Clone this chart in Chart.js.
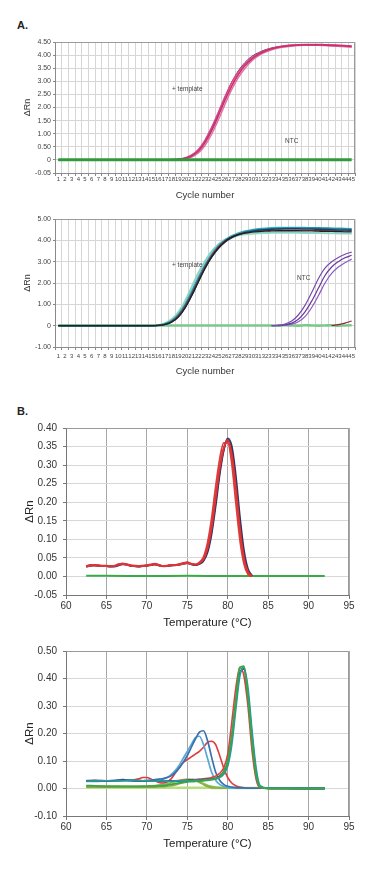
<!DOCTYPE html>
<html><head><meta charset="utf-8">
<script src="https://cdn.jsdelivr.net/npm/chart.js@4.4.0/dist/chart.umd.min.js"></script>
<style>
html,body{margin:0;padding:0;background:#fff;width:380px;height:869px;overflow:hidden;position:relative}
canvas{position:absolute;left:0}
.lbl{position:absolute;font:bold 11px 'Liberation Sans',Arial,sans-serif;color:#222;line-height:1}
.ann{position:absolute;font:6.5px 'Liberation Sans',Arial,sans-serif;color:#444;white-space:nowrap;line-height:1}
</style></head><body>
<div class="lbl" style="left:17px;top:20px">A.</div>
<div class="lbl" style="left:17px;top:406px">B.</div>
<canvas id="c1" width="380" height="180" style="top:30px"></canvas>
<canvas id="c2" width="380" height="175" style="top:210px"></canvas>
<canvas id="c3" width="380" height="215" style="top:415px"></canvas>
<canvas id="c4" width="380" height="231" style="top:638px"></canvas>
<div class="ann" style="left:172px;top:86px">+ template</div>
<div class="ann" style="left:285px;top:138px">NTC</div>
<div class="ann" style="left:172px;top:262px">+ template</div>
<div class="ann" style="left:297px;top:275px">NTC</div>
<script>
// ---------- DATA ----------
const cycleLabels = ['1','2','3','4','5','6','7','8','9','10','11','12','13','14','15','16','17','18','19','20','21','22','23','24','25','26','27','28','29','30','31','32','33','34','35','36','37','38','39','40','41','42','43','44','45'];

// Panel A (top): amplification, + template (pink) and NTC (green)
const a1Template1 = [0,0,0,0,0,0,0,0,0,0,0,0,0,0,0,0,0,0.01,0.02,0.06,0.15,0.33,0.66,1.12,1.68,2.28,2.82,3.26,3.6,3.85,4.02,4.15,4.24,4.3,4.34,4.37,4.38,4.39,4.39,4.39,4.38,4.37,4.36,4.35,4.33];
const a1Template2 = [0,0,0,0,0,0,0,0,0,0,0,0,0,0,0,0,0,0.01,0.03,0.08,0.19,0.4,0.76,1.25,1.82,2.42,2.95,3.36,3.67,3.9,4.06,4.18,4.26,4.32,4.36,4.38,4.4,4.41,4.41,4.41,4.4,4.39,4.38,4.37,4.35];
const a1Template3 = [0,0,0,0,0,0,0,0,0,0,0,0,0,0,0,0,0,0,0.01,0.04,0.11,0.26,0.55,0.98,1.52,2.12,2.68,3.14,3.5,3.78,3.97,4.1,4.2,4.27,4.31,4.34,4.36,4.37,4.37,4.37,4.36,4.35,4.34,4.32,4.3];
const a1Template4 = [0,0,0,0,0,0,0,0,0,0,0,0,0,0,0,0,0,0.01,0.02,0.07,0.17,0.37,0.72,1.2,1.78,2.4,2.96,3.4,3.72,3.95,4.09,4.2,4.27,4.32,4.35,4.37,4.38,4.39,4.39,4.39,4.38,4.37,4.36,4.34,4.33];
const a1Ntc = [0.01,0.01,0.01,0.01,0.01,0.01,0.01,0.01,0.01,0.01,0.01,0.01,0.01,0.01,0.01,0.01,0.01,0.01,0.01,0.01,0.01,0.01,0.01,0.01,0.01,0.01,0.01,0.01,0.01,0.01,0.01,0.01,0.01,0.01,0.01,0.01,0.01,0.01,0.01,0.01,0.01,0.01,0.01,0.01,0.01];
const a1YTicks = ['-0.05','0','0.50','1.00','1.50','2.00','2.50','3.00','3.50','4.00','4.50'];

// Panel A (bottom)
const a2Teal = [0,0,0,0,0,0,0,0,0,0,0,0,0,0,0,0.02,0.08,0.22,0.5,0.95,1.55,2.2,2.8,3.3,3.7,3.98,4.17,4.3,4.4,4.46,4.5,4.53,4.55,4.56,4.57,4.57,4.58,4.58,4.57,4.57,4.56,4.55,4.54,4.53,4.52];
const a2Cyan = [0,0,0,0,0,0,0,0,0,0,0,0,0,0,0,0.02,0.09,0.24,0.54,1.0,1.62,2.28,2.88,3.38,3.76,4.03,4.22,4.35,4.44,4.5,4.54,4.57,4.59,4.6,4.6,4.6,4.6,4.6,4.59,4.59,4.58,4.57,4.57,4.56,4.55];
const a2LightCyan = [0,0,0,0,0,0,0,0,0,0,0,0,0,0,0,0.03,0.11,0.28,0.6,1.1,1.75,2.42,3.0,3.48,3.82,4.05,4.18,4.26,4.31,4.34,4.36,4.37,4.38,4.38,4.38,4.38,4.37,4.37,4.36,4.36,4.35,4.34,4.34,4.33,4.33];
const a2LightGreen = [0,0,0,0,0,0,0,0,0,0,0,0,0,0,0,0.04,0.13,0.32,0.66,1.18,1.85,2.5,3.05,3.5,3.82,4.03,4.15,4.22,4.27,4.3,4.32,4.33,4.34,4.34,4.34,4.34,4.34,4.33,4.33,4.33,4.32,4.32,4.31,4.31,4.3];
const a2Navy = [0,0,0,0,0,0,0,0,0,0,0,0,0,0,0,0.01,0.06,0.18,0.42,0.85,1.42,2.07,2.7,3.22,3.62,3.92,4.12,4.26,4.36,4.42,4.47,4.5,4.52,4.53,4.54,4.54,4.54,4.53,4.53,4.52,4.51,4.5,4.49,4.48,4.47];
const a2Black = [0,0,0,0,0,0,0,0,0,0,0,0,0,0,0,0.01,0.05,0.16,0.4,0.82,1.4,2.05,2.68,3.22,3.64,3.95,4.15,4.27,4.34,4.38,4.41,4.43,4.44,4.45,4.45,4.45,4.45,4.44,4.44,4.43,4.42,4.42,4.41,4.4,4.4];
const a2Red = [0,0,0,0,0,0,0,0,0,0,0,0,0,0,0,0.02,0.07,0.2,0.47,0.92,1.5,2.15,2.78,3.3,3.7,3.98,4.16,4.28,4.36,4.41,4.44,4.46,4.47,4.48,4.48,4.48,4.48,4.47,4.47,4.46,4.46,4.45,4.45,4.44,4.44];
const a2Ntc1 = [null,null,null,null,null,null,null,null,null,null,null,null,null,null,null,null,null,null,null,null,null,null,null,null,null,null,null,null,null,null,null,null,0,0.02,0.08,0.22,0.5,0.95,1.55,2.2,2.7,3.0,3.2,3.35,3.45];
const a2Ntc2 = [null,null,null,null,null,null,null,null,null,null,null,null,null,null,null,null,null,null,null,null,null,null,null,null,null,null,null,null,null,null,null,null,0,0.01,0.04,0.12,0.3,0.65,1.15,1.75,2.35,2.75,3.0,3.18,3.3];
const a2Ntc3 = [null,null,null,null,null,null,null,null,null,null,null,null,null,null,null,null,null,null,null,null,null,null,null,null,null,null,null,null,null,null,null,null,0,0,0.02,0.07,0.18,0.42,0.85,1.4,2.0,2.45,2.75,2.95,3.12];
const a2Ntc4 = [null,null,null,null,null,null,null,null,null,null,null,null,null,null,null,null,null,null,null,null,null,null,null,null,null,null,null,null,null,null,null,null,null,null,null,null,null,null,null,null,null,0,0.05,0.12,0.22];
const a2NtcGreen = [0.01,0.01,0.01,0.01,0.01,0.01,0.01,0.01,0.01,0.01,0.01,0.01,0.01,0.01,0.01,0.01,0.01,0.01,0.01,0.01,0.01,0.01,0.01,0.01,0.01,0.01,0.01,0.01,0.01,0.01,0.01,0.01,0.01,0.0,0.02,0.01,0.0,0.02,0.01,0.0,0.01,0.02,0.0,0.01,0.02];

// Panel B (top): melt curves
const b1Temp = [62.5,63,63.5,64,64.5,65,65.5,66,66.5,67,67.5,68,68.5,69,69.5,70,70.5,71,71.5,72,72.5,73,73.5,74,74.5,75,75.5,76,76.5,77,77.5,78,78.5,79,79.5,80,80.5,81,81.5,82,82.5,83];
const b1Red1 = [0.028,0.031,0.031,0.030,0.029,0.029,0.028,0.028,0.032,0.035,0.033,0.030,0.029,0.028,0.029,0.030,0.032,0.034,0.031,0.028,0.029,0.031,0.031,0.033,0.036,0.038,0.034,0.032,0.036,0.046,0.075,0.130,0.210,0.290,0.345,0.368,0.330,0.240,0.130,0.050,0.012,0.001];
const b1Red2 = [0.026,0.029,0.030,0.029,0.028,0.028,0.027,0.029,0.033,0.034,0.031,0.029,0.027,0.027,0.028,0.029,0.031,0.033,0.030,0.027,0.028,0.030,0.031,0.032,0.034,0.036,0.033,0.032,0.038,0.052,0.090,0.155,0.240,0.315,0.360,0.360,0.305,0.200,0.100,0.035,0.006,0.000];
const b1Navy = [0.027,0.029,0.030,0.029,0.028,0.028,0.027,0.027,0.030,0.033,0.032,0.029,0.028,0.027,0.028,0.029,0.031,0.032,0.030,0.028,0.028,0.030,0.030,0.032,0.034,0.036,0.033,0.031,0.034,0.042,0.065,0.115,0.190,0.275,0.340,0.372,0.350,0.270,0.160,0.070,0.020,0.002];
const b1Dark = [0.027,0.030,0.030,0.029,0.028,0.028,0.027,0.028,0.031,0.034,0.032,0.029,0.028,0.027,0.028,0.029,0.031,0.033,0.030,0.028,0.028,0.030,0.031,0.032,0.035,0.037,0.033,0.031,0.035,0.044,0.070,0.122,0.200,0.282,0.342,0.366,0.340,0.255,0.145,0.060,0.015,0.001];
const b1GreenTemp = [62.5,65,70,75,80,83,85,90,92];
const b1Green = [0.002,0.002,0.001,0.002,0.001,0.001,0.001,0.001,0.001];

// Panel B (bottom)
const b2Temp = [62.5,63,64,65,66,67,68,69,69.5,70,70.5,71,71.5,72,72.5,73,73.5,74,74.5,75,75.5,76,76.5,77,77.5,78,78.5,79,79.5,80,80.5,81,81.5,82,82.5,83,83.5,84,85,86,88,90,92];
const b2MainGreen = [0.010,0.010,0.009,0.008,0.008,0.008,0.008,0.008,0.008,0.008,0.009,0.009,0.010,0.010,0.012,0.015,0.018,0.020,0.022,0.024,0.025,0.026,0.027,0.028,0.030,0.032,0.035,0.042,0.060,0.100,0.190,0.320,0.440,0.445,0.330,0.170,0.050,0.005,0.000,0.000,0.000,0.000,0.000];
const b2MainTeal = [0.027,0.027,0.028,0.028,0.027,0.029,0.031,0.029,0.028,0.028,0.027,0.027,0.028,0.027,0.026,0.026,0.027,0.028,0.028,0.029,0.029,0.030,0.030,0.031,0.032,0.033,0.035,0.040,0.052,0.082,0.160,0.290,0.410,0.440,0.365,0.210,0.075,0.010,0.001,0.001,0.001,0.000,0.000];
const b2MainNavy = [0.028,0.029,0.028,0.027,0.028,0.032,0.030,0.028,0.027,0.027,0.028,0.028,0.027,0.026,0.026,0.027,0.027,0.027,0.028,0.029,0.030,0.030,0.031,0.032,0.033,0.034,0.037,0.045,0.060,0.095,0.180,0.310,0.420,0.435,0.345,0.190,0.060,0.006,0.001,0.001,0.000,0.000,0.000];
const b2MainRed = [0.028,0.028,0.029,0.028,0.027,0.029,0.030,0.029,0.028,0.028,0.028,0.027,0.027,0.027,0.027,0.028,0.028,0.029,0.030,0.031,0.032,0.033,0.034,0.035,0.037,0.040,0.045,0.055,0.075,0.125,0.240,0.365,0.440,0.410,0.300,0.140,0.035,0.003,0.001,0.000,0.000,0.000,0.000];
const b2BlueDimer = [0.028,0.028,0.029,0.028,0.030,0.030,0.029,0.028,0.028,0.029,0.030,0.032,0.034,0.036,0.040,0.046,0.058,0.075,0.095,0.120,0.150,0.180,0.205,0.210,0.175,0.115,0.060,0.030,0.015,0.008,0.005,0.003,0.002,0.002,0.001,0.001,0.001,0.001,0.001,0.001,0.002,0.000,0.000];
const b2LightBlueDimer = [0.025,0.026,0.026,0.027,0.027,0.028,0.028,0.028,0.028,0.029,0.029,0.030,0.032,0.034,0.040,0.050,0.065,0.085,0.110,0.135,0.160,0.185,0.190,0.160,0.110,0.060,0.030,0.015,0.008,0.004,0.002,0.002,0.002,0.001,0.001,0.001,0.001,0.001,0.001,0.001,0.001,0.001,0.001];
const b2RedDimer = [0.027,0.028,0.028,0.027,0.028,0.030,0.030,0.035,0.040,0.040,0.035,0.028,0.022,0.020,0.024,0.035,0.055,0.075,0.095,0.105,0.115,0.125,0.135,0.150,0.168,0.172,0.160,0.120,0.075,0.040,0.020,0.010,0.005,0.003,0.002,0.002,0.001,0.001,0.001,0.000,0.000,0.000,0.000];
const b2GreenBump = [0.010,0.010,0.009,0.009,0.009,0.008,0.008,0.008,0.009,0.009,0.010,0.011,0.012,0.014,0.017,0.021,0.025,0.029,0.032,0.034,0.033,0.030,0.025,0.018,0.012,0.008,0.005,0.004,0.003,0.003,0.002,0.002,0.002,0.002,0.002,0.002,0.002,0.002,null,null,null,null,null];
const b2OliveBump = [0.005,0.005,0.005,0.005,0.005,0.005,0.005,0.005,0.005,0.005,0.005,0.005,0.006,0.006,0.008,0.010,0.013,0.017,0.021,0.025,0.028,0.027,0.022,0.014,0.007,0.003,0.002,0.001,0.001,0.001,null,null,null,null,null,null,null,null,null,null,null,null,null];
const b2LimeFlat = [0.004,0.004,0.003,0.003,0.003,0.003,0.003,0.003,0.003,0.003,0.003,0.003,0.003,0.003,0.003,0.003,0.003,0.003,0.003,0.003,0.003,0.003,0.003,0.003,0.003,0.002,0.002,0.002,0.002,0.002,0.002,0.002,0.002,0.002,0.002,0.002,0.002,0.002,null,null,null,null,null];

// ---------- RENDER ----------
const SANS = "'Liberation Sans', Arial, sans-serif";

const frame = {
  id: 'frame',
  beforeDatasetsDraw(c, args, o) {
    const a = c.chartArea, ctx = c.ctx;
    ctx.save();
    ctx.strokeStyle = o.color || '#999';
    ctx.lineWidth = 1;
    ctx.beginPath();
    ctx.moveTo(Math.round(a.left) + 0.5, Math.round(a.top) + 0.5);
    ctx.lineTo(Math.round(a.right) - 0.5, Math.round(a.top) + 0.5);
    ctx.lineTo(Math.round(a.right) - 0.5, Math.round(a.bottom));
    ctx.stroke();
    ctx.restore();
  }
};

function line(data, color, width) {
  return { data, borderColor: color, borderWidth: width || 1.3, pointRadius: 0, fill: false,
           tension: 0.4, cubicInterpolationMode: 'monotone', spanGaps: false };
}
function xy(xs, ys) { return xs.map((x, i) => ({ x, y: ys[i] })); }

function ampOptions(p) {
  return {
    responsive: false, animation: false, events: [],
    layout: { padding: { top: p.top, right: 25, left: 0, bottom: p.bottom } },
    plugins: { legend: { display: false }, tooltip: { enabled: false }, frame: { color: '#9a9a9a' } },
    scales: {
      x: {
        type: 'category', offset: true,
        grid: { offset: true, color: '#d6d6d6', tickLength: 3, tickColor: '#888', drawTicks: true },
        border: { color: '#8a8a8a' },
        ticks: { autoSkip: false, maxRotation: 0, minRotation: 0, padding: p.tickPad, color: '#444', font: { size: 6, family: SANS } },
        title: { display: true, text: 'Cycle number', color: '#333', padding: 0, font: { size: 9.5, family: SANS } },
        afterFit(s) { s.height = p.xh; }
      },
      y: {
        min: p.min, max: p.max,
        grid: { color: '#d6d6d6', drawTicks: true, tickLength: 2, tickColor: '#888' },
        border: { color: '#8a8a8a' },
        ticks: { stepSize: p.step, padding: 2, color: '#444', font: { size: 7, family: SANS }, callback: p.cb },
        title: { display: true, text: 'ΔRn', color: '#333', padding: { top: 22, bottom: 0 }, font: { size: 9, family: SANS } },
        afterFit(s) { s.width = 55; }
      }
    }
  };
}

function fmt2(v) {
  const r = Math.round(v * 100) / 100;
  return (Math.abs(r) < 1e-9 ? 0 : r).toFixed(2);
}

function meltOptions(p) {
  return {
    responsive: false, animation: false, events: [],
    layout: { padding: { top: 13, right: 31, left: 0, bottom: p.bottom } },
    plugins: { legend: { display: false }, tooltip: { enabled: false }, frame: { color: '#9a9a9a' } },
    scales: {
      x: {
        type: 'linear', min: 60, max: 95,
        grid: { color: '#a8a8a8', tickLength: 4, tickColor: '#777', drawTicks: true },
        border: { color: '#777' },
        ticks: { stepSize: 5, padding: 1, color: '#333', font: { size: 10, family: SANS } },
        title: { display: true, text: 'Temperature (°C)', color: '#222', padding: 0, font: { size: 11.5, family: SANS } },
        afterFit(s) { s.height = 35; }
      },
      y: {
        min: p.min, max: p.max,
        grid: { color: '#d8d8d8', drawTicks: true, tickLength: 3, tickColor: '#777' },
        border: { color: '#777' },
        ticks: { stepSize: p.step, padding: 6, color: '#333', font: { size: 10, family: SANS }, callback: fmt2 },
        title: { display: true, text: 'ΔRn', color: '#222', padding: { top: 23, bottom: 0 }, font: { size: 11.5, family: SANS } },
        afterFit(s) { s.width = 66; }
      }
    }
  };
}

function a1Label(v) {
  const i = Math.round((v + 0.5) / 0.5);
  return a1YTicks[i];
}
function a2Label(v) {
  if (Math.abs(v) < 1e-9) return '0';
  return v < 0 ? '-' + Math.abs(v).toFixed(2) : v.toFixed(2);
}

new Chart(document.getElementById('c1'), {
  type: 'line',
  data: {
    labels: cycleLabels,
    datasets: [
      line(a1Ntc, '#2f9a3c', 3),
      line(a1Template1, '#c8306f', 1.6),
      line(a1Template2, '#d8488a', 1.4),
      line(a1Template3, '#e070a4', 1.4),
      line(a1Template4, '#6a2a5a', 1.0)
    ]
  },
  options: ampOptions({ top: 12, bottom: 9, xh: 28, tickPad: 0, min: -0.5, max: 4.5, step: 0.5, cb: a1Label }),
  plugins: [frame]
});

new Chart(document.getElementById('c2'), {
  type: 'line',
  data: {
    labels: cycleLabels,
    datasets: [
      line(a2Ntc4, '#8a2a3a', 1.2),
      line(a2Ntc1, '#7a4ab0', 1.2),
      line(a2Ntc2, '#6a3a9a', 1.2),
      line(a2Ntc3, '#8a5ac0', 1.2),
      line(a2Black, '#222222', 1.3),
      line(a2Navy, '#1f3f66', 1.5),
      line(a2Red, '#b83040', 1.1),
      line(a2Teal, '#1f8a9c', 1.6),
      line(a2Cyan, '#3cb8c8', 1.4),
      line(a2LightCyan, '#7fd4d4', 1.3),
      line(a2LightGreen, '#9fd8b0', 1.4),
      line(a2NtcGreen, '#7cc88a', 2.6)
    ]
  },
  options: ampOptions({ top: 9, bottom: 8, xh: 30, tickPad: 2.5, min: -1, max: 5, step: 1, cb: a2Label }),
  plugins: [frame]
});

new Chart(document.getElementById('c3'), {
  type: 'line',
  data: {
    datasets: [
      line(xy(b1Temp, b1Red1), '#e03434', 2),
      line(xy(b1Temp, b1Red2), '#d84040', 1.8),
      line(xy(b1Temp, b1Dark), '#3a2a4a', 1.8),
      line(xy(b1Temp, b1Navy), '#2a3f78', 2),
      line(xy(b1GreenTemp, b1Green), '#3aaa44', 2)
    ]
  },
  options: meltOptions({ bottom: 0, min: -0.05, max: 0.40, step: 0.05 }),
  plugins: [frame]
});

new Chart(document.getElementById('c4'), {
  type: 'line',
  data: {
    datasets: [
      line(xy(b2Temp, b2MainGreen), '#3aa64a', 1.8),
      line(xy(b2Temp, b2MainTeal), '#2a9a9a', 1.8),
      line(xy(b2Temp, b2MainNavy), '#2a3f7a', 1.8),
      line(xy(b2Temp, b2MainRed), '#e04040', 1.6),
      line(xy(b2Temp, b2BlueDimer), '#3a70b0', 1.7),
      line(xy(b2Temp, b2LightBlueDimer), '#5aa8d4', 1.7),
      line(xy(b2Temp, b2RedDimer), '#e03c3c', 1.6),
      line(xy(b2Temp, b2GreenBump), '#7cc04a', 1.7),
      line(xy(b2Temp, b2OliveBump), '#a09a50', 1.5),
      line(xy(b2Temp, b2LimeFlat), '#b4e07a', 2.6)
    ]
  },
  options: meltOptions({ bottom: 18, min: -0.1, max: 0.5, step: 0.1 }),
  plugins: [frame]
});
</script>
</body></html>
